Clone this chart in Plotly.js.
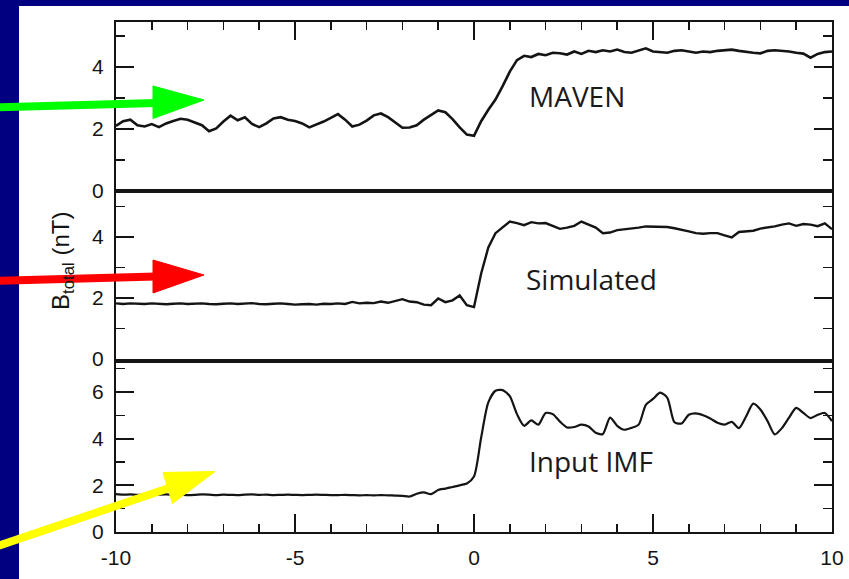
<!DOCTYPE html>
<html>
<head>
<meta charset="utf-8">
<script src="https://cdn.plot.ly/plotly-3.0.1.min.js"></script>
<style>html,body{margin:0;padding:0;background:#000080;}#chart{width:849px;height:579px;}</style>
</head>
<body>
<div id="chart"></div>
<script>
// Time axis (hours relative to event), shared by all three panels
const time = [-10.0,-9.8,-9.6,-9.4,-9.2,-9.0,-8.8,-8.6,-8.4,-8.2,-8.0,-7.8,-7.6,-7.4,-7.2,-7.0,-6.8,-6.6,-6.4,-6.2,-6.0,-5.8,-5.6,-5.4,-5.2,-5.0,-4.8,-4.6,-4.4,-4.2,-4.0,-3.8,-3.6,-3.4,-3.2,-3.0,-2.8,-2.6,-2.4,-2.2,-2.0,-1.8,-1.6,-1.4,-1.2,-1.0,-0.8,-0.6,-0.4,-0.2,0.0,0.2,0.4,0.6,0.8,1.0,1.2,1.4,1.6,1.8,2.0,2.2,2.4,2.6,2.8,3.0,3.2,3.4,3.6,3.8,4.0,4.2,4.4,4.6,4.8,5.0,5.2,5.4,5.6,5.8,6.0,6.2,6.4,6.6,6.8,7.0,7.2,7.4,7.6,7.8,8.0,8.2,8.4,8.6,8.8,9.0,9.2,9.4,9.6,9.8,10.0];

// MAVEN observed |B| (nT)
const maven = [2.10,2.25,2.30,2.12,2.08,2.16,2.06,2.18,2.26,2.33,2.30,2.22,2.12,1.93,2.02,2.24,2.43,2.28,2.38,2.16,2.06,2.18,2.34,2.38,2.30,2.26,2.18,2.05,2.14,2.24,2.36,2.48,2.30,2.08,2.14,2.27,2.44,2.50,2.38,2.22,2.04,2.05,2.12,2.30,2.46,2.60,2.54,2.32,2.05,1.82,1.78,2.25,2.62,2.95,3.38,3.85,4.22,4.36,4.32,4.42,4.38,4.46,4.44,4.40,4.50,4.42,4.52,4.48,4.54,4.50,4.56,4.48,4.46,4.54,4.60,4.50,4.48,4.46,4.52,4.54,4.50,4.46,4.50,4.48,4.52,4.55,4.56,4.52,4.48,4.46,4.44,4.52,4.54,4.53,4.50,4.46,4.43,4.30,4.42,4.48,4.50];

// Simulated |B| (nT)
const simulated = [1.82,1.80,1.82,1.81,1.80,1.82,1.81,1.79,1.81,1.82,1.80,1.81,1.82,1.80,1.79,1.81,1.82,1.80,1.81,1.83,1.80,1.79,1.81,1.82,1.80,1.78,1.79,1.80,1.78,1.81,1.80,1.82,1.80,1.87,1.82,1.84,1.83,1.88,1.84,1.90,1.96,1.88,1.86,1.78,1.76,1.98,1.86,1.92,2.08,1.76,1.70,2.80,3.65,4.12,4.32,4.50,4.45,4.38,4.48,4.44,4.45,4.36,4.26,4.30,4.36,4.50,4.40,4.30,4.12,4.14,4.22,4.24,4.26,4.30,4.34,4.33,4.32,4.32,4.28,4.24,4.18,4.12,4.10,4.12,4.12,4.05,3.98,4.16,4.18,4.20,4.27,4.30,4.34,4.40,4.44,4.36,4.42,4.40,4.35,4.44,4.25];

// Input IMF |B| (nT)
const imf = [1.62,1.60,1.61,1.59,1.60,1.58,1.60,1.61,1.59,1.60,1.58,1.59,1.61,1.60,1.58,1.60,1.59,1.58,1.60,1.61,1.59,1.60,1.58,1.59,1.60,1.59,1.58,1.59,1.60,1.59,1.58,1.58,1.59,1.58,1.57,1.58,1.57,1.58,1.57,1.56,1.55,1.52,1.64,1.70,1.62,1.80,1.86,1.93,2.00,2.08,2.38,4.05,5.55,6.05,6.08,5.82,5.05,4.55,4.78,4.60,5.10,5.05,4.73,4.48,4.50,4.60,4.52,4.25,4.20,4.90,4.55,4.38,4.46,4.60,5.45,5.70,5.97,5.75,4.70,4.65,5.02,5.08,5.00,4.86,4.68,4.60,4.72,4.45,4.95,5.50,5.25,4.75,4.18,4.45,4.90,5.32,5.10,4.88,5.02,5.10,4.75];

const panelLabels = ["MAVEN", "Simulated", "Input IMF"];
const xTickVals = [-10, -5, 0, 5, 10];
const yTitle = "B<sub>total</sub> (nT)";

// ---- layout geometry (pixels) ----
const W = 849, H = 579;
const M = {l: 116, r: 17, t: 22, b: 47};
const PW = W - M.l - M.r, PH = H - M.t - M.b;
function px(x) { return (x - M.l) / PW; }
function py(y) { return (H - M.b - y) / PH; }
function pt(x, y) { return px(x).toFixed(5) + ',' + py(y).toFixed(5); }

const ink = '#141414';
const tickFont = {family: 'Liberation Sans, Arial, sans-serif', size: 21, color: ink};

const traces = [
  {x: time, y: imf, xaxis: 'x', yaxis: 'y', mode: 'lines', line: {color: ink, width: 2.2, shape: 'spline', smoothing: 0.7}, showlegend: false, hoverinfo: 'skip'},
  {x: time, y: simulated, xaxis: 'x2', yaxis: 'y2', mode: 'lines', line: {color: ink, width: 2.4}, showlegend: false, hoverinfo: 'skip'},
  {x: time, y: maven, xaxis: 'x3', yaxis: 'y3', mode: 'lines', line: {color: ink, width: 2.6}, showlegend: false, hoverinfo: 'skip'}
];

const baseX = {range: [-10, 10], showgrid: false, zeroline: false, showline: true, linecolor: ink, linewidth: 2, mirror: true, fixedrange: true};
const baseY = {showgrid: false, zeroline: false, showline: true, linecolor: ink, linewidth: 2, mirror: 'ticks',
  ticks: 'inside', ticklen: 18, tickwidth: 1.8, tickcolor: ink, tickmode: 'array', tickfont: tickFont, ticklabelstandoff: 6,
  minor: {ticks: 'inside', ticklen: 9, tickwidth: 1.5, tickcolor: ink, dtick: 1, tick0: 0}, fixedrange: true};

const layout = {
  width: W, height: H,
  margin: M,
  paper_bgcolor: '#000080',
  plot_bgcolor: 'rgba(0,0,0,0)',
  xaxis: Object.assign({}, baseX, {anchor: 'y', ticks: 'inside', ticklen: 18, tickwidth: 1.8, tickcolor: ink,
    tickmode: 'array', tickvals: xTickVals, ticktext: xTickVals.map(String), tickfont: tickFont, ticklabelstandoff: 6,
    minor: {ticks: 'inside', ticklen: 8, tickwidth: 1.5, tickcolor: ink, dtick: 1, tick0: 0}}),
  xaxis2: Object.assign({}, baseX, {anchor: 'y2', ticks: '', showticklabels: false}),
  xaxis3: Object.assign({}, baseX, {anchor: 'y3', side: 'top', ticks: 'inside', ticklen: 18, tickwidth: 1.8, tickcolor: ink,
    tickmode: 'array', tickvals: xTickVals, showticklabels: false,
    minor: {ticks: 'inside', ticklen: 8, tickwidth: 1.5, tickcolor: ink, dtick: 1, tick0: 0}}),
  yaxis: Object.assign({}, baseY, {anchor: 'x', domain: [0, py(363)], range: [0, 7.24], tickvals: [0, 2, 4, 6]}),
  yaxis2: Object.assign({}, baseY, {anchor: 'x2', domain: [py(359), py(191)], range: [0, 5.5], tickvals: [0, 2, 4]}),
  yaxis3: Object.assign({}, baseY, {anchor: 'x3', domain: [py(191), 1], range: [0, 5.45], tickvals: [0, 2, 4]}),
  shapes: [
    {type: 'rect', xref: 'paper', yref: 'paper', x0: px(19), x1: px(860), y0: py(600), y1: py(6), fillcolor: '#ffffff', line: {width: 0}, layer: 'below'},
    // green arrow
    {type: 'path', xref: 'paper', yref: 'paper', path: 'M' + pt(-5, 107.5) + 'L' + pt(156, 103), line: {color: '#00ff00', width: 8}, layer: 'above'},
    {type: 'path', xref: 'paper', yref: 'paper', path: 'M' + pt(153, 86) + 'L' + pt(153, 118.5) + 'L' + pt(204, 100) + 'Z', fillcolor: '#00ff00', line: {color: '#00ff00', width: 1}, layer: 'above'},
    // red arrow
    {type: 'path', xref: 'paper', yref: 'paper', path: 'M' + pt(-5, 281) + 'L' + pt(156, 276.5), line: {color: '#ff0000', width: 8}, layer: 'above'},
    {type: 'path', xref: 'paper', yref: 'paper', path: 'M' + pt(153, 260) + 'L' + pt(153, 293) + 'L' + pt(204, 275) + 'Z', fillcolor: '#ff0000', line: {color: '#ff0000', width: 1}, layer: 'above'},
    // yellow arrow
    {type: 'path', xref: 'paper', yref: 'paper', path: 'M' + pt(-5, 547) + 'L' + pt(169, 488) + '', line: {color: '#ffff00', width: 8}, layer: 'above'},
    {type: 'path', xref: 'paper', yref: 'paper', path: 'M' + pt(163, 472.5) + 'L' + pt(172.5, 503.5) + 'L' + pt(215, 471.5) + 'Z', fillcolor: '#ffff00', line: {color: '#ffff00', width: 1}, layer: 'above'}
  ],
  annotations: [
    {xref: 'x3', yref: 'y3', x: 1.48, y: 3.05, text: panelLabels[0], showarrow: false, xanchor: 'left', yanchor: 'middle',
      font: {family: 'Open Sans, sans-serif', size: 28, color: '#1a1a1a'}},
    {xref: 'x2', yref: 'y2', x: 1.40, y: 2.62, text: panelLabels[1], showarrow: false, xanchor: 'left', yanchor: 'middle',
      font: {family: 'Open Sans, sans-serif', size: 28, color: '#1a1a1a'}},
    {xref: 'x', yref: 'y', x: 1.48, y: 3.04, text: panelLabels[2], showarrow: false, xanchor: 'left', yanchor: 'middle',
      font: {family: 'Open Sans, sans-serif', size: 28, color: '#1a1a1a'}},
    {xref: 'paper', yref: 'paper', x: px(62), y: py(261), text: yTitle, showarrow: false, textangle: -90,
      xanchor: 'center', yanchor: 'middle', font: {family: 'Liberation Sans, Arial, sans-serif', size: 24, color: ink}}
  ]
};

Plotly.newPlot('chart', traces, layout, {staticPlot: true, displayModeBar: false});
</script>
</body>
</html>
